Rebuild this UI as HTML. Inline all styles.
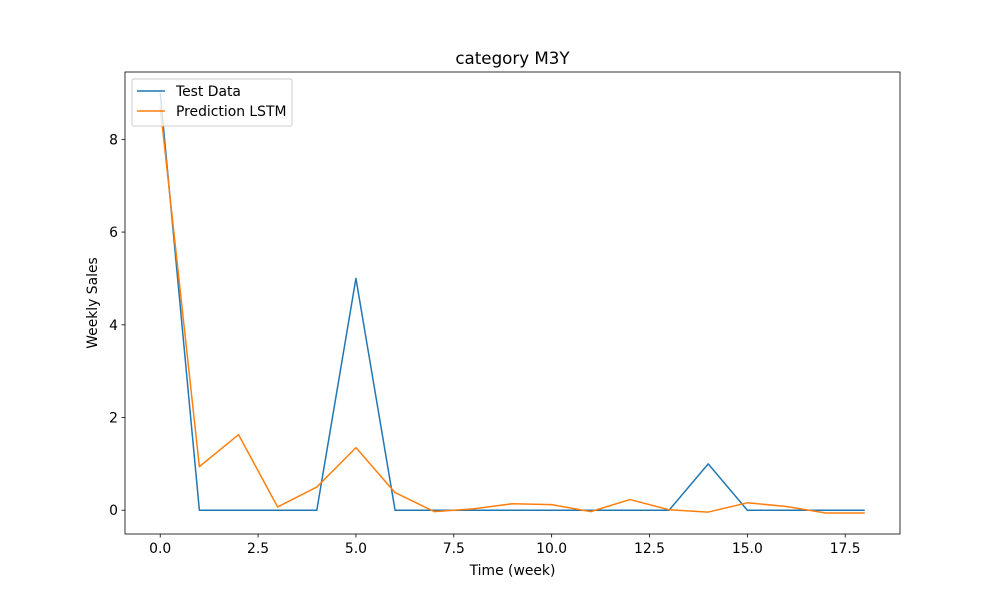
<!DOCTYPE html>
<html><head><meta charset="utf-8"><style>
body{margin:0;background:#fff}
text{font-family:"DejaVu Sans","Liberation Sans",sans-serif;fill:#000}
</style></head><body>
<svg id="chart" width="1000" height="600" xmlns="http://www.w3.org/2000/svg"></svg>
<script>
const xValues=[0,1,2,3,4,5,6,7,8,9,10,11,12,13,14,15,16,17,18];
const testData=[9,0,0,0,0,5,0,0,0,0,0,0,0,0,1,0,0,0,0];
const predLSTM=[8.7,0.94,1.63,0.07,0.5,1.35,0.38,-0.03,0.03,0.14,0.12,-0.03,0.23,0.01,-0.04,0.16,0.08,-0.06,-0.06];
const xTicks=[0,2.5,5,7.5,10,12.5,15,17.5];
const xTickLabels=["0.0","2.5","5.0","7.5","10.0","12.5","15.0","17.5"];
const yTicks=[0,2,4,6,8];
const yTickLabels=["0","2","4","6","8"];
const L=125,R=900,T=72,B=534;
const xmin=-0.9,xmax=18.9,ymin=-0.513,ymax=9.453;
const sx=v=>L+(v-xmin)/(xmax-xmin)*(R-L);
const sy=v=>B-(v-ymin)/(ymax-ymin)*(B-T);
const svg=document.getElementById('chart');
const NS='http://www.w3.org/2000/svg';
function mk(tag,attrs,parent){const e=document.createElementNS(NS,tag);for(const k in attrs)e.setAttribute(k,attrs[k]);(parent||svg).appendChild(e);return e;}
function line(d,color,name){
  const p=mk('polyline',{points:xValues.map((x,i)=>sx(x)+','+sy(d[i])).join(' '),fill:'none',stroke:color,'stroke-width':1.5,'stroke-linejoin':'round'});
  
  
}
line(testData,'#1f77b4','test-data-line');
line(predLSTM,'#ff7f0e','prediction-lstm-line');
const frame=mk('rect',{x:L,y:T,width:R-L,height:B-T,fill:'none',stroke:'#000','stroke-width':0.8});


xTicks.forEach((v,i)=>{
  mk('line',{x1:sx(v),x2:sx(v),y1:B,y2:B+3.5,stroke:'#000','stroke-width':0.8});
  const t=mk('text',{x:sx(v),y:B+19,'text-anchor':'middle','font-size':13.9});
  t.textContent=xTickLabels[i];
  
  
});
yTicks.forEach((v,i)=>{
  mk('line',{x1:L-3.5,x2:L,y1:sy(v),y2:sy(v),stroke:'#000','stroke-width':0.8});
  const t=mk('text',{x:L-7,y:sy(v)+5,'text-anchor':'end','font-size':13.9});
  t.textContent=yTickLabels[i];
  
  
});
</script>
<svg width="1000" height="600" style="position:absolute;left:0;top:0">
<text x="512.5" y="64" text-anchor="middle" font-size="16.7">category M3Y</text>
<text x="512.5" y="575" text-anchor="middle" font-size="13.9">Time (week)</text>
<text x="97" y="303" text-anchor="middle" font-size="13.9" transform="rotate(-90 97 303)">Weekly Sales</text>
<g>
<rect x="132" y="79" width="160" height="47" rx="2" fill="#fff" fill-opacity="0.8" stroke="#ccc" stroke-width="1"/>
<line x1="137" y1="91" x2="165" y2="91" stroke="#1f77b4" stroke-width="1.5"/>
<text x="176" y="96" font-size="13.9">Test Data</text>
<line x1="137" y1="111" x2="165" y2="111" stroke="#ff7f0e" stroke-width="1.5"/>
<text x="176" y="116" font-size="13.9">Prediction LSTM</text>
</g>
</svg>
</body></html>
